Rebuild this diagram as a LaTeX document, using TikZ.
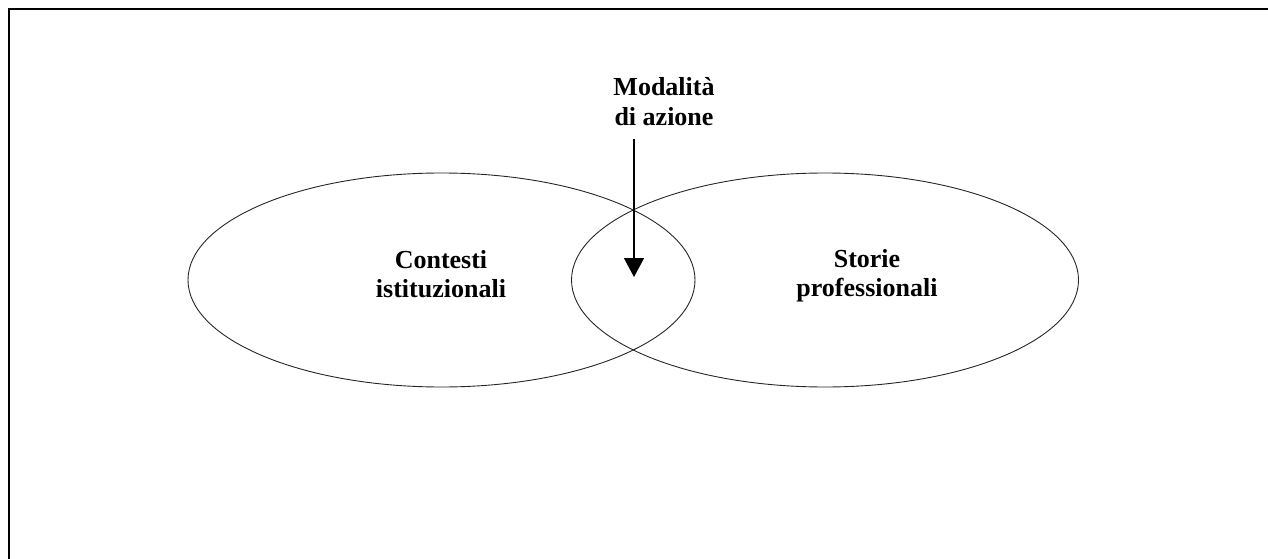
\documentclass[tikz,border=0pt]{standalone}
\usepackage{fontspec}
\setmainfont{Liberation Serif}
\usetikzlibrary{arrows.meta,shapes.geometric}
\begin{document}
\begin{tikzpicture}[x=1pt,y=-1pt,
  frameline/.style={line width=2pt,black},
  setshape/.style={draw=black!85,line width=0.9pt,ellipse,minimum width=507pt,minimum height=214pt,inner sep=0pt},
  setlabel/.style={align=center,inner sep=0pt,font=\bfseries\fontsize{26}{29}\selectfont},
  pointer/.style={line width=1.5pt,-{Triangle[width=20pt,length=19pt]}}]
  \useasboundingbox (0,0) rectangle (1268,559);
  % page frame, open on the right and at the bottom
  \draw[frameline] (9,559) -- (9,9.5) -- (1268,9.5);
  % the two overlapping sets
  \node[setshape] (ctx) at (441.5,280) {};
  \node[setshape] (hist) at (825,280) {};
  % set labels (base anchor sits on the last line)
  \node[setlabel,anchor=base] (ctxlabel) at (441,297) {Contesti\\istituzionali};
  \node[setlabel,anchor=base] (histlabel) at (867,296) {Storie\\professionali};
  \node[setlabel,anchor=base] (modelabel) at (664,125) {Modalità\\di azione};
  % arrow into the intersection
  \coordinate (arrowstart) at (634,139);
  \coordinate (arrowtip) at (634,277);
  \draw[pointer] (arrowstart) -- (arrowtip);
\end{tikzpicture}
\end{document}
